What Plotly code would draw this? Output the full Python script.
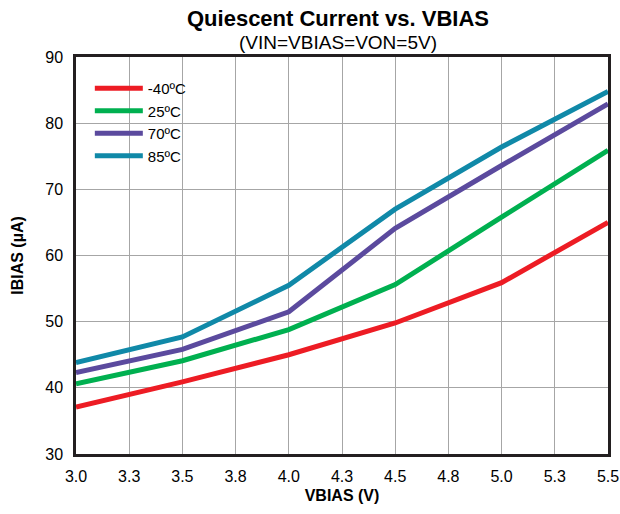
import plotly.graph_objects as go

vbias = [3.0, 3.5, 4.0, 4.5, 5.0, 5.5]
series_names = ["-40ºC", "25ºC", "70ºC", "85ºC"]
i_m40 = [37.1, 40.9, 45.0, 49.8, 55.9, 65.0]
i_25 = [40.6, 44.1, 48.8, 55.6, 65.8, 75.9]
i_70 = [42.3, 45.8, 51.5, 64.1, 73.6, 82.9]
i_85 = [43.8, 47.7, 55.5, 67.0, 76.4, 84.8]
colors = ["#ED1C24", "#00B050", "#5B4A9E", "#1089A8"]

x_tickvals = [3.0, 3.25, 3.5, 3.75, 4.0, 4.25, 4.5, 4.75, 5.0, 5.25, 5.5]
x_ticktext = ["3.0", "3.3", "3.5", "3.8", "4.0", "4.3", "4.5", "4.8", "5.0", "5.3", "5.5"]
y_tickvals = [30, 40, 50, 60, 70, 80, 90]

font = "Liberation Sans, Arial, sans-serif"

fig = go.Figure()
for name, ys, c in zip(series_names, [i_m40, i_25, i_70, i_85], colors):
    fig.add_trace(go.Scatter(x=vbias, y=ys, mode="lines", name=name,
                             line=dict(color=c, width=5)))

fig.update_layout(
    width=620, height=514,
    margin=dict(l=76, r=12, t=57, b=60, autoexpand=False),
    paper_bgcolor="white", plot_bgcolor="white",
    font=dict(family=font, color="black", size=16),
    showlegend=True,
    legend=dict(x=0.026, y=0.962, xanchor="left", yanchor="top",
                bgcolor="rgba(0,0,0,0)", font=dict(size=15, family=font),
                tracegroupgap=0, itemwidth=48),
    annotations=[
        dict(text="<b>Quiescent Current vs. VBIAS</b>", x=0.493, y=1.0, xref="paper", yref="paper",
             xanchor="center", yanchor="middle", yshift=38.5, showarrow=False,
             font=dict(size=22, family=font)),
        dict(text="(VIN=VBIAS=VON=5V)", x=0.493, y=1.0, xref="paper", yref="paper",
             xanchor="center", yanchor="middle", yshift=14.5, showarrow=False,
             font=dict(size=19, family=font)),
    ],
)
fig.update_xaxes(range=[3.0, 5.5], tickvals=x_tickvals, ticktext=x_ticktext,
                 showgrid=True, gridcolor="#A6A6A6", gridwidth=1,
                 showline=True, linecolor="#231F20", linewidth=2.5, mirror=True,
                 ticks="", zeroline=False, ticklabelstandoff=6, automargin=False,
                 title=dict(text="<b>VBIAS (V)</b>", font=dict(size=16, family=font), standoff=6))
fig.update_yaxes(range=[30, 90], tickvals=y_tickvals,
                 showgrid=True, gridcolor="#A6A6A6", gridwidth=1,
                 showline=True, linecolor="#231F20", linewidth=2.5, mirror=True,
                 ticks="", zeroline=False, ticklabelstandoff=7, automargin=False,
                 title=dict(text="<b>IBIAS (µA)</b>", font=dict(size=16, family=font), standoff=18))

fig.write_html("out.html", config={"displayModeBar": False},
               post_script="document.body.style.margin='0';document.body.style.overflow='hidden';")
